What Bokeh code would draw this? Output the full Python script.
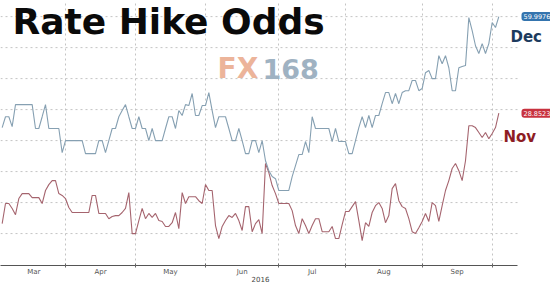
from bokeh.plotting import figure
from bokeh.models import FixedTicker, Label, Range1d, ColumnDataSource, LinearAxis
from bokeh.embed import file_html
from bokeh.resources import INLINE

# Trading-day series (2016)
dec = [24.2, 27.7, 27.7, 24.5, 31.6, 31.6, 31.6, 31.6, 31.6, 31.6,
       23.9, 23.9, 27.7, 31.6, 23.9, 23.9, 23.9, 23.9, 16.1, 20.0,
       20.0, 20.0, 20.0, 20.0, 20.0, 15.8, 15.8, 15.8, 15.8, 20.0,
       20.0, 16.1, 20.0, 23.9, 23.9, 27.7, 29.7, 31.6, 27.7, 23.9,
       23.9, 27.7, 23.9, 23.9, 20.0, 23.9, 20.0, 20.0, 20.0, 23.9,
       27.7, 27.7, 23.9, 29.7, 28.1, 31.6, 31.3, 35.2, 28.1, 28.1,
       31.3, 31.3, 35.5, 29.7, 24.2, 27.7, 27.7, 27.7, 23.9, 20.0,
       20.0, 23.9, 20.0, 15.8, 15.8, 20.0, 20.0, 16.1, 20.0, 13.5,
       10.3, 8.4, 7.7, 3.9, 3.9, 3.9, 3.9, 8.4, 11.9, 15.5,
       15.5, 19.7, 16.1, 27.7, 23.9, 23.9, 23.9, 23.9, 23.9, 19.7,
       23.9, 19.7, 19.7, 19.7, 15.8, 15.8, 20.0, 24.2, 27.7, 24.2,
       28.1, 24.2, 28.1, 28.1, 31.9, 35.5, 35.5, 31.9, 35.2, 31.9,
       35.5, 36.1, 36.1, 39.4, 39.4, 36.1, 36.8, 41.9, 42.6, 40.0,
       40.0, 47.4, 44.8, 47.4, 43.5, 36.1, 36.1, 43.5, 43.9, 44.2,
       59.7, 55.5, 50.6, 48.1, 51.3, 48.1, 51.3, 58.1, 56.5, 59.9976]

nov = [-6.8, -0.3, -0.3, -1.9, -3.9, 1.3, 2.9, 2.9, 2.9, 1.6,
       1.6, 1.6, -0.3, 3.9, 5.8, 7.1, 7.1, 2.9, 2.3, 1.3,
       -1.6, -3.2, -3.2, -3.2, -3.2, -3.2, -3.2, 2.3, 2.3, -3.5,
       -3.5, -3.5, -5.2, -4.5, -4.2, -4.2, -3.2, -1.9, 3.2, -10.0,
       -10.0, -5.8, -1.9, -5.2, -3.5, -4.8, -3.5, -5.8, -6.1, -7.7,
       -7.7, -6.5, -3.2, -8.4, 3.2, -0.3, 1.9, 1.9, 1.9, 0.6,
       -0.3, 5.8, 3.9, 3.9, -7.4, -11.6, -7.7, -5.8, -4.2, -4.8,
       -3.5, -5.8, -9.0, -1.3, -1.3, -9.4, -6.8, -5.5, -10.0, 12.6,
       9.7, 5.5, 2.9, -0.3, -0.3, -0.3, -0.3, -2.6, -7.4, -10.0,
       -5.2, -7.4, -10.0, -7.4, -5.2, -5.2, -9.4, -9.4, -9.4, -7.7,
       -11.6, -11.6, -7.1, -2.9, -2.9, -1.3, 0.3, -5.8, -12.3, -6.5,
       -7.7, -3.2, -1.0, 0.0, -1.9, -6.5, -4.2, 4.5, 6.1, 0.6,
       -1.3, -1.9, -5.2, -9.4, -10.0, -8.1, -6.1, -3.5, -6.1, 0.0,
       -1.0, -6.1, -1.0, 3.9, 7.1, 11.0, 12.6, 10.3, 7.1, 13.5,
       24.8, 24.8, 24.2, 22.6, 21.0, 22.6, 20.6, 22.3, 24.2, 28.8523]

months = ["Mar", "Apr", "May", "Jun", "Jul", "Aug", "Sep"]
month_starts = [0, 19, 40, 61, 83, 103, 126, 147]   # trading-day index of month starts
y_ticks = [-10, 0, 10, 20, 30, 40, 50, 60]
year_label = "2016"
dec_last = "59.9976"
nov_last = "28.8523"

X_LO, X_AXIS_END, X_HI = -0.5, 154.6, 164.5
YEAR_POS = 77.5

days = list(range(len(dec)))
src = ColumnDataSource(data=dict(x=days, dec=dec, nov=nov))

p = figure(width=550, height=287, frame_width=550, frame_height=265,
           output_backend="svg", toolbar_location=None,
           x_range=Range1d(X_LO, X_HI), y_range=Range1d(-20.3, 65.2),
           min_border_left=0, min_border_top=0, min_border_right=0,
           min_border_bottom=0)
p.outline_line_color = None
p.background_fill_color = "white"
p.border_fill_color = "white"

# grids: vertical at month starts, horizontal drawn only across the data area
p.xgrid.ticker = FixedTicker(ticks=month_starts[1:])
p.xgrid.grid_line_color = "#c4c4c4"
p.xgrid.grid_line_dash = "2 3"
p.ygrid.visible = False
n = len(y_ticks)
p.segment(x0=[X_LO] * n, x1=[X_AXIS_END] * n, y0=y_ticks, y1=y_ticks,
          line_color="#c4c4c4", line_dash="2 3", line_width=1)

p.yaxis.visible = False

mids = [(month_starts[i] + month_starts[i + 1]) / 2 for i in range(len(months))]
xa = p.xaxis[0]
xa.ticker = FixedTicker(ticks=mids, minor_ticks=month_starts[1:])
xa.major_label_overrides = {m: lab for m, lab in zip(mids, months)}
xa.bounds = (X_LO, X_AXIS_END)
xa.major_tick_line_color = None
xa.major_tick_out = 0
xa.major_tick_in = 0
xa.minor_tick_line_color = "#666666"
xa.minor_tick_in = 2
xa.minor_tick_out = 2
xa.axis_line_color = "#555555"
xa.major_label_text_font = "DejaVu Sans"
xa.major_label_text_font_size = "7px"
xa.major_label_text_color = "#555555"
xa.major_label_standoff = 0

# year label as a second axis row
ya = LinearAxis(ticker=FixedTicker(ticks=[YEAR_POS]),
                major_label_overrides={YEAR_POS: year_label},
                axis_line_color=None, major_tick_line_color=None,
                minor_tick_line_color=None, major_tick_out=0, major_tick_in=0,
                major_label_standoff=-3, major_label_text_font="DejaVu Sans",
                major_label_text_font_size="7px", major_label_text_color="#444444")
p.add_layout(ya, "below")

p.line("x", "nov", source=src, line_color="#a5646e", line_width=1.1)
p.line("x", "dec", source=src, line_color="#86a0b2", line_width=1.1)

# title and watermark
p.add_layout(Label(x=3.1, y=58.5, text="Rate Hike Odds", text_font="DejaVu Sans",
                   text_font_style="bold", text_font_size="36px", text_color="#0a0a0a",
                   text_baseline="middle"))
p.add_layout(Label(x=64.6, y=43.1, text="FX", text_font="DejaVu Sans",
                   text_font_style="bold", text_font_size="28px", text_color="#ecb49a",
                   text_baseline="middle"))
p.add_layout(Label(x=78.1, y=43.1, text="168", text_font="DejaVu Sans",
                   text_font_style="bold", text_font_size="27px", text_color="#9fb2c2",
                   text_baseline="middle"))

# last-value boxes and series names
p.add_layout(Label(x=155.8, y=dec[-1], text=dec_last, text_font="DejaVu Sans",
                   text_font_size="6.5px", text_color="white", text_baseline="middle",
                   background_fill_color="#3474ae", padding=2, border_radius=3))
p.add_layout(Label(x=155.8, y=nov[-1], text=nov_last, text_font="DejaVu Sans",
                   text_font_size="6.5px", text_color="white", text_baseline="middle",
                   background_fill_color="#c8323f", padding=2, border_radius=3))
p.add_layout(Label(x=152.5, y=53.3, text="Dec", text_font="DejaVu Sans",
                   text_font_style="bold", text_font_size="15px", text_color="#1c3b5e",
                   text_baseline="middle"))
p.add_layout(Label(x=150.4, y=21.0, text="Nov", text_font="DejaVu Sans",
                   text_font_style="bold", text_font_size="15px", text_color="#8e1d24",
                   text_baseline="middle"))

open("out.html", "w").write(file_html(p, INLINE))
